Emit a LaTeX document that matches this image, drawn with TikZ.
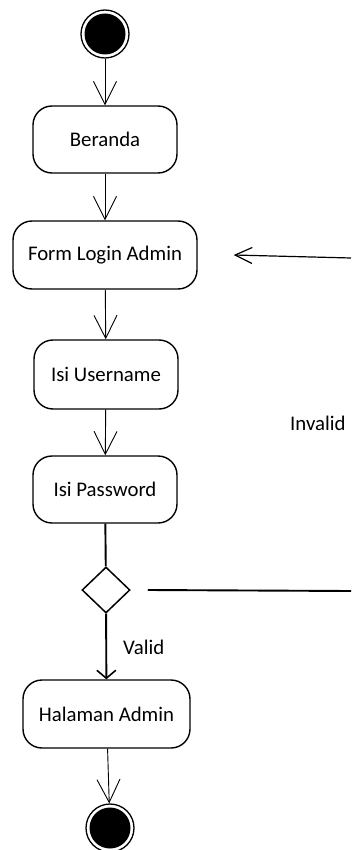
\documentclass[tikz,border=0pt]{standalone}
\usepackage{fontspec}
\setmainfont{Carlito}
\usetikzlibrary{arrows.meta,shapes.geometric}
\begin{document}
\begin{tikzpicture}[x=1pt,y=-1pt,
  font=\fontsize{20.8}{24}\selectfont,
  act/.style={draw,line width=1.4pt,rounded corners=19pt,inner sep=0pt,minimum height=67pt},
  flow/.style={line width=0.9pt,-{Straight Barb[length=23pt,width=23pt,line width=0.9pt]}},
  thick flow/.style={line width=1.9pt},
  dec/.style={draw,diamond,line width=1.5pt,inner sep=0pt,minimum width=48pt,minimum height=46pt},
  ring/.style={circle,draw,line width=1.3pt,minimum size=48pt,inner sep=0pt},
  dot/.style={circle,fill=black,minimum size=41pt,inner sep=0pt}]
\useasboundingbox (0,0) rectangle (351,850);
% start
\node[ring] (start) at (105,34) {};
\node[dot] at (start) {};
% activities
\node[act,minimum width=144pt] (beranda) at (105,139.5) {Beranda};
\node[act,minimum width=184pt,minimum height=68pt] (login) at (105,255) {Form Login Admin};
\node[act,minimum width=144pt,minimum height=69pt] (user) at (106,374.5) {Isi Username};
\node[act,minimum width=144pt] (pass) at (105,489.5) {Isi Password};
\node[dec] (d) at (106,590) {};
\node[act,minimum width=167pt,minimum height=68pt] (admin) at (106.5,714) {Halaman Admin};
% end
\node[ring] (end) at (110,828) {};
\node[dot] at (end) {};
% labels
\node[anchor=west,inner sep=0pt] (valid) at (123,647) {Valid};
\node[anchor=west,inner sep=0pt] (invalid) at (290,423) {Invalid};
% free ends
\coordinate (r1) at (351,258);
\coordinate (r2) at (351,591);
% connectors
\draw[flow] (start) -- (beranda);
\draw[flow] (beranda) -- (login);
\draw[flow] (login) -- (user);
\draw[flow] (user) -- (pass);
\draw[thick flow] (pass) -- (d);
\draw[thick flow,-{Straight Barb[length=8pt,width=19pt,line width=1.6pt]}] (d) -- (admin);
\draw[flow] (admin) -- (end);
\draw[thick flow] ([xshift=17pt]d.east) -- (r2);
\draw[line width=1.2pt,-{Straight Barb[length=17pt,width=16pt,line width=1.2pt]}] (r1) -- ([xshift=36pt]login.east);
\end{tikzpicture}
\end{document}
